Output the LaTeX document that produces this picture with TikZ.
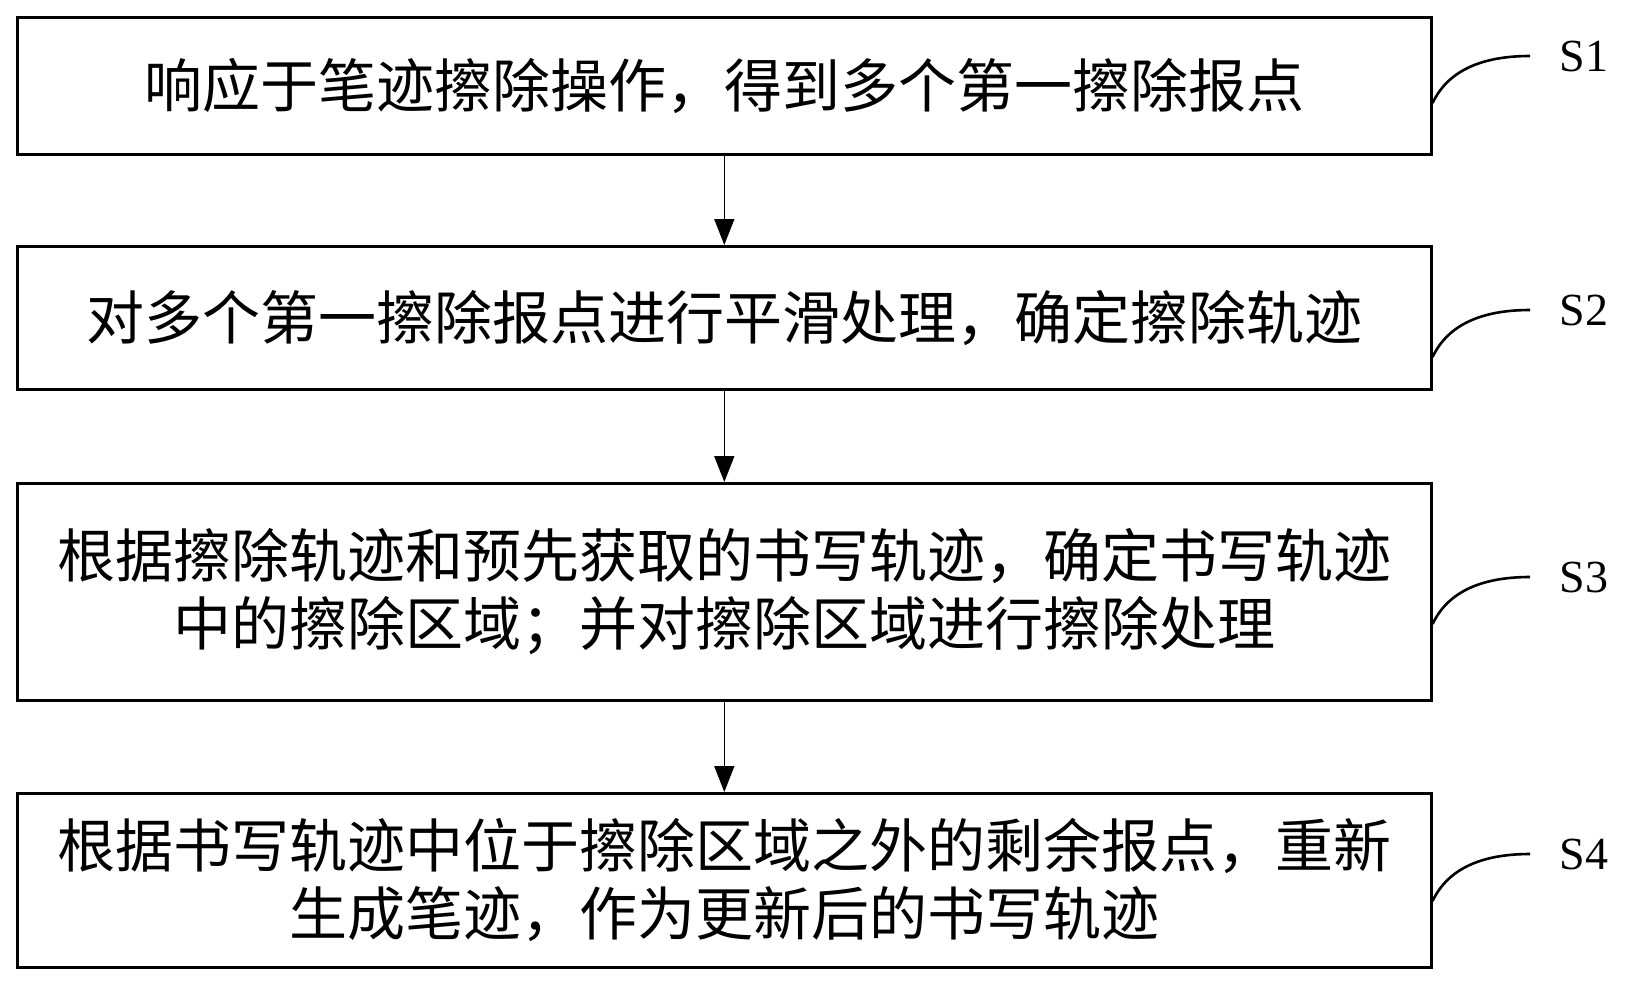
\documentclass[tikz,border=0pt]{standalone}
\usepackage{fontspec}
\setmainfont{Liberation Serif}
\newfontfamily\cjk{Noto Sans CJK SC}
\usetikzlibrary{arrows.meta}
\begin{document}
\begin{tikzpicture}[x=1pt,y=-1pt,
  stepbox/.style={draw,line width=2.6pt,minimum width=1414pt,text width=1400pt,anchor=north west,inner sep=0pt,align=center,font=\cjk\fontsize{58}{68}\selectfont},
  arr/.style={line width=1.6pt,-{Triangle[length=26pt,width=20pt]}},
  lab/.style={font=\fontsize{46}{50}\selectfont,anchor=west},
  cur/.style={line width=2.6pt}]
\useasboundingbox (0,0) rectangle (1629,983);
\node[stepbox,minimum height=137pt] (b1) at (16,16) {响应于笔迹擦除操作，得到多个第一擦除报点};
\node[stepbox,minimum height=143pt] (b2) at (16,245) {对多个第一擦除报点进行平滑处理，确定擦除轨迹};
\node[stepbox,minimum height=217pt] (b3) at (16,482) {根据擦除轨迹和预先获取的书写轨迹，确定书写轨迹\\中的擦除区域；并对擦除区域进行擦除处理};
\node[stepbox,minimum height=174pt] (b4) at (16,792) {根据书写轨迹中位于擦除区域之外的剩余报点，重新\\生成笔迹，作为更新后的书写轨迹};
\draw[arr] (b1.south) -- (b2.north);
\draw[arr] (b2.south) -- (b3.north);
\draw[arr] (b3.south) -- (b4.north);
\foreach \b/\y/\t in {b1/56/S1,b2/310/S2,b3/577/S3,b4/854/S4}{
  \coordinate (e\b) at (1530,\y);
  \node[lab] (l\b) at (1556,\y) {\t};
  \draw[cur] (\b.east |- 0,\y+47) .. controls (1450,\y+10) and (1490,\y) .. (e\b);
}
\end{tikzpicture}
\end{document}
